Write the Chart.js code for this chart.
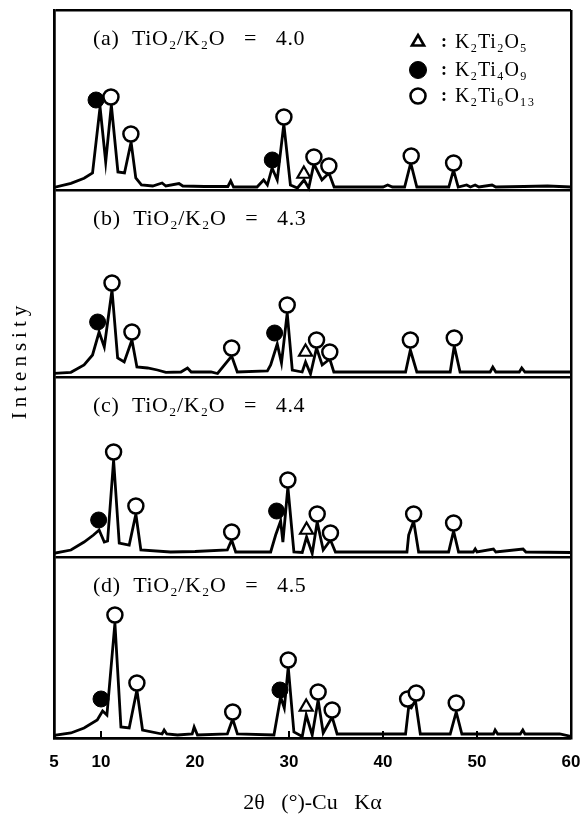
<!DOCTYPE html>
<html lang="en">
<head>
<meta charset="UTF-8">
<title>XRD TiO2/K2O</title>
<style>
  body { margin: 0; background: #fff; }
  canvas { display: block; }
</style>
</head>
<body>
<canvas id="xrd" width="581" height="817"></canvas>
<script src="https://cdn.jsdelivr.net/npm/chart.js@4"></script>
<script>
// ==== data ====
const xTicks = [5, 10, 20, 30, 40, 50, 60];
const innerTicks = [10, 30, 40, 50];
const panelEdges = [0, 181, 361, 548, 728];
const panelLabels = ['(a)  TiO₂/K₂O   =   4.0', '(b)  TiO₂/K₂O   =   4.3', '(c)  TiO₂/K₂O   =   4.4', '(d)  TiO₂/K₂O   =   4.5'];
const panelBase = [548, 361, 181, 0];
const legendNames = ['K₂Ti₂O₅', 'K₂Ti₄O₉', 'K₂Ti₆O₁₃'];

// [2θ, intensity above panel baseline]
const curveA = [[5.0,2.5],[6.8,6.7],[8.2,11.7],[9.1,17],[9.9,83],[10.5,28],[11.1,85],[11.8,18],[12.5,17],[13.2,48],[13.7,12],[14.3,5],[15.5,4],[16.5,7],[16.9,4],[18.3,6.5],[18.7,4],[21.0,3.5],[23.5,3.5],[23.8,9],[24.1,3],[26.6,3],[27.3,10],[27.7,5],[28.2,22],[28.75,10],[29.45,66],[30.15,5],[30.9,2],[31.6,10],[32.1,2],[32.65,26],[33.5,10],[34.25,17],[34.8,3],[40.0,3],[40.5,5],[41.0,3],[42.3,3],[42.95,27],[43.6,3],[47.0,3],[47.5,20],[48.0,3],[48.9,5],[49.3,3],[49.8,5],[50.2,3],[51.6,5],[52.0,3],[55.0,3.5],[57.5,4],[60.0,3]];
const curveB = [[5.0,3.7],[6.8,4.7],[8.2,12],[9.1,22],[9.8,45],[10.35,30],[11.17,87],[11.77,19],[12.47,15],[13.29,37],[13.82,10],[14.95,9],[16.0,7],[16.9,4.7],[18.5,5],[19.2,9],[19.6,5],[21.7,5],[22.4,3.5],[23.9,21],[24.5,5],[27.7,6],[28.05,12],[28.75,33],[29.2,14],[29.81,64],[30.35,7],[31.4,5],[31.76,15],[32.29,3],[32.93,29],[33.53,12],[34.34,18],[34.77,5],[42.4,5],[42.91,27],[43.6,5],[47.15,5],[47.58,31],[48.2,5],[51.4,5],[51.68,10],[52.0,5],[54.5,5],[54.76,9],[55.1,5],[60.0,5]];
const curveC = [[5.0,3.7],[6.8,7],[8.2,15],[9.2,22],[9.8,27],[10.35,15],[10.7,16],[11.34,97],[11.94,14],[13.0,12],[13.71,43],[14.24,7],[17.4,5],[20.0,5.5],[23.44,7],[23.9,17],[24.33,5],[28.05,5],[28.58,22],[29.11,36],[29.35,15],[29.88,70],[30.52,5],[31.41,4.5],[31.87,20],[32.47,3.5],[33.0,35],[33.64,7],[34.41,17],[34.94,5],[42.55,5],[42.73,22],[43.26,36],[43.79,5],[46.98,5],[47.51,26],[48.04,5],[49.6,5],[49.81,8],[50.0,5],[51.75,8],[52.0,5],[54.9,8],[55.2,5],[60.0,4.5]];
const curveD = [[5.0,1.5],[5.2,3],[6.8,5],[8.2,10],[9.6,18],[10.17,27],[10.63,23],[11.48,115],[12.12,11],[13.0,10],[13.82,48],[14.42,8],[16.5,4],[16.72,8],[17.0,4],[18.14,3],[19.7,4],[19.91,11],[20.26,3],[23.44,4],[24.01,19],[24.51,4],[28.4,3],[29.11,41],[29.5,30],[29.92,71],[30.52,6],[31.41,1.5],[31.83,23],[32.47,3],[33.1,38],[33.64,5],[34.59,21],[35.12,4],[42.4,4],[42.73,31],[43.0,30],[43.44,38],[43.97,4],[47.15,4],[47.79,26],[48.39,4],[51.75,4],[51.93,8],[52.2,4],[54.6,4],[54.87,8],[55.1,4],[58.8,4],[60.0,1.5]];

// phase markers: K2Ti6O13 (open), K2Ti4O9 (filled), K2Ti2O5 (triangle)
const openA = [[11.06,93],[13.18,56],[29.46,73],[32.65,33],[34.24,24],[43.0,34],[47.51,27]];
const fillA = [[9.47,90],[28.22,30]];
const triA = [[31.58,16]];
const openB = [[11.17,94],[13.29,45],[23.9,29],[29.81,72],[32.93,37],[34.34,25],[42.91,37],[47.58,39]];
const fillB = [[9.64,55],[28.47,44]];
const triB = [[31.76,25]];
const openC = [[11.34,105],[13.71,51],[23.9,25],[29.88,77],[33.0,43],[34.41,24],[43.26,43],[47.51,34]];
const fillC = [[9.75,37],[28.68,46]];
const triC = [[31.87,27]];
const openD = [[11.48,123],[13.82,55],[24.01,26],[29.92,78],[33.1,46],[34.59,28],[42.62,39],[43.54,45],[47.79,35]];
const fillD = [[10.0,39],[29.04,48]];
const triD = [[31.83,31]];

const curves = [curveA, curveB, curveC, curveD];
const opens = [openA, openB, openC, openD];
const fills = [fillA, fillB, fillC, fillD];
const tris = [triA, triB, triC, triD];

const toPts = (arr, base) => arr.map(p => ({ x: p[0], y: p[1] + base }));

const datasets = [];
curves.forEach((c, i) => {
  datasets.push({
    data: toPts(c, panelBase[i]), showLine: true, borderColor: '#000',
    borderWidth: 2.8, pointRadius: 0, tension: 0, order: 2
  });
  datasets.push({
    data: toPts(opens[i], panelBase[i]), pointStyle: 'circle', pointRadius: 7.5,
    backgroundColor: '#fff', borderColor: '#000', borderWidth: 2.5, order: 1
  });
  datasets.push({
    data: toPts(fills[i], panelBase[i]), pointStyle: 'circle', pointRadius: 8,
    backgroundColor: '#000', borderColor: '#000', borderWidth: 1, order: 1
  });
  datasets.push({
    data: toPts(tris[i], panelBase[i]), pointStyle: 'triangle', pointRadius: 7.5,
    backgroundColor: '#fff', borderColor: '#000', borderWidth: 2.2, order: 1
  });
});

// panel texts, legend, y title, inner ticks
const decor = {
  id: 'decor',
  afterDatasetsDraw(chart) {
    const { ctx, chartArea, scales: { x, y } } = chart;
    ctx.save();
    ctx.fillStyle = '#000';
    ctx.strokeStyle = '#000';

    // inward ticks on the bottom axis
    ctx.lineWidth = 2;
    innerTicks.forEach(v => {
      const px = x.getPixelForValue(v);
      ctx.beginPath();
      ctx.moveTo(px, chartArea.bottom);
      ctx.lineTo(px, chartArea.bottom - 7);
      ctx.stroke();
    });

    // panel labels
    ctx.font = '22px "Liberation Serif"';
    ctx.letterSpacing = '0.7px';
    ctx.textAlign = 'left';
    ctx.textBaseline = 'alphabetic';
    panelLabels.forEach((t, i) => {
      const top = y.getPixelForValue(panelEdges[4 - i]);
      ctx.fillText(t, 93, top + 35);
    });

    // legend
    const ly = [42, 70, 96];
    const styles = [
      { pointStyle: 'triangle', radius: 7, fill: '#fff', bw: 2.6 },
      { pointStyle: 'circle', radius: 8.5, fill: '#000', bw: 1 },
      { pointStyle: 'circle', radius: 7.5, fill: '#fff', bw: 2.6 }
    ];
    styles.forEach((s, i) => {
      ctx.fillStyle = s.fill;
      ctx.lineWidth = s.bw;
      Chart.helpers.drawPoint(ctx, { pointStyle: s.pointStyle, radius: s.radius, rotation: 0, borderWidth: s.bw }, 418, ly[i]);
    });
    ctx.fillStyle = '#000';
    ctx.textBaseline = 'middle';
    ctx.letterSpacing = '0px';
    ctx.font = 'bold 18px "Liberation Serif"';
    ly.forEach(v => ctx.fillText(':', 441, v));
    ctx.font = '20px "Liberation Serif"';
    ctx.letterSpacing = '0.8px';
    legendNames.forEach((t, i) => ctx.fillText(t, 455, ly[i] + 1));

    // y title
    ctx.translate(20, 360);
    ctx.rotate(-Math.PI / 2);
    ctx.textAlign = 'center';
    ctx.font = '21px "Liberation Serif"';
    ctx.letterSpacing = '5px';
    ctx.fillText('Intensity', 0, 0);
    ctx.restore();
  }
};

new Chart(document.getElementById('xrd'), {
  type: 'scatter',
  data: { datasets },
  options: {
    responsive: false,
    animation: false,
    layout: { padding: { top: 10, right: 8, left: 0, bottom: 0 } },
    plugins: { legend: { display: false }, tooltip: { enabled: false } },
    scales: {
      x: {
        type: 'linear', min: 5, max: 60,
        afterBuildTicks: s => { s.ticks = xTicks.map(v => ({ value: v })); },
        afterFit: s => { s.height = 79; s.paddingLeft = 0; s.paddingRight = 0; },
        ticks: {
          autoSkip: false, maxRotation: 0, padding: 14, color: '#000',
          font: { family: 'Liberation Sans', size: 17, weight: 'bold' },
          callback: v => v
        },
        grid: {
          drawTicks: false, lineWidth: 2.5,
          color: c => (c.tick && (c.tick.value === 5 || c.tick.value === 60)) ? '#000' : 'rgba(0,0,0,0)'
        },
        border: { display: true, color: '#000', width: 2.5 },
        title: {
          display: true, text: '2θ   (°)-Cu   Kα', color: '#000',
          font: { family: 'Liberation Serif', size: 22 }, padding: { top: 0, bottom: 1 }
        }
      },
      y: {
        type: 'linear', min: 0, max: 728,
        afterBuildTicks: s => { s.ticks = panelEdges.map(v => ({ value: v })); },
        afterFit: s => { s.width = 54; },
        ticks: { display: false },
        grid: { drawTicks: false, color: '#000', lineWidth: 2.5 },
        border: { display: true, color: '#000', width: 2.5 }
      }
    }
  },
  plugins: [decor]
});
</script>
</body>
</html>
